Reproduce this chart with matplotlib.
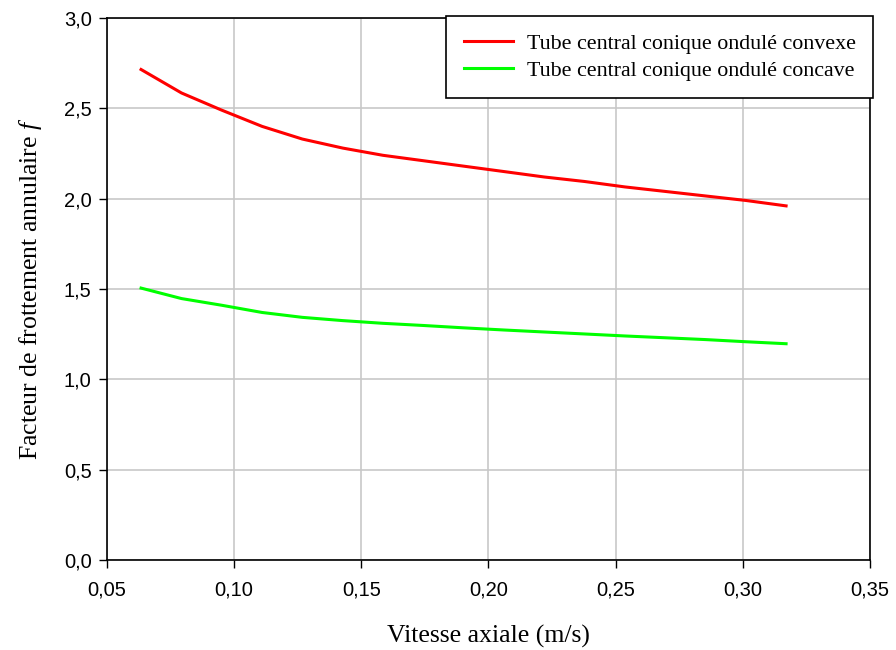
import matplotlib.pyplot as plt
from matplotlib.ticker import FuncFormatter

vitesse = [0.0634, 0.0793, 0.0951, 0.1110, 0.1268, 0.1427, 0.1585, 0.1744,
           0.1902, 0.2061, 0.2219, 0.2378, 0.2536, 0.2695, 0.2853, 0.3012, 0.3170]
f_convexe = [2.715, 2.585, 2.490, 2.400, 2.330, 2.280, 2.240, 2.210,
             2.180, 2.150, 2.120, 2.095, 2.065, 2.040, 2.015, 1.990, 1.960]
f_concave = [1.505, 1.447, 1.410, 1.370, 1.343, 1.325, 1.310, 1.298,
             1.285, 1.273, 1.262, 1.251, 1.240, 1.230, 1.220, 1.208, 1.197]

serif = 'Liberation Serif'
sans = 'Liberation Sans'
plt.rcParams['mathtext.fontset'] = 'custom'
plt.rcParams['mathtext.it'] = 'Liberation Serif:italic'
plt.rcParams['mathtext.rm'] = 'Liberation Serif'

fig = plt.figure(figsize=(8.96, 6.5), dpi=100)
ax = fig.add_axes([0.1194, 0.1385, 0.8516, 0.8338])

ax.plot(vitesse, f_convexe, color='#ff0000', linewidth=2.2,
        label='Tube central conique ondulé convexe')
ax.plot(vitesse, f_concave, color='#00ff00', linewidth=2.2,
        label='Tube central conique ondulé concave')

ax.set_xlim(0.05, 0.35)
ax.set_ylim(0, 3.0)
ax.set_xticks([0.05, 0.10, 0.15, 0.20, 0.25, 0.30, 0.35])
ax.set_yticks([0.0, 0.5, 1.0, 1.5, 2.0, 2.5, 3.0])
ax.xaxis.set_major_formatter(FuncFormatter(lambda v, p: f'{v:.2f}'.replace('.', ',')))
ax.yaxis.set_major_formatter(FuncFormatter(lambda v, p: f'{v:.1f}'.replace('.', ',')))
ax.grid(True, color='#c8c8c8', linewidth=1.2)
ax.set_axisbelow(True)
for s in ax.spines.values():
    s.set_linewidth(1.2)
    s.set_color('black')
ax.tick_params(direction='out', length=6, width=1.0, labelsize=14.5, pad=5)
for lab in ax.get_xticklabels() + ax.get_yticklabels():
    lab.set_fontfamily(sans)
ax.tick_params(axis='x', pad=9)

ax.set_xlabel('Vitesse axiale (m/s)', fontsize=18.5, family=serif, labelpad=18)
ax.set_ylabel('Facteur de frottement annulaire $\\mathit{f}$', fontsize=18.5,
              family=serif, labelpad=14)

leg = ax.legend(loc='upper right', bbox_to_anchor=(1.004, 1.004),
                borderaxespad=0,
                prop={'family': serif, 'size': 15.8}, fancybox=False,
                edgecolor='black', framealpha=1, borderpad=0.8,
                handlelength=2.25, handletextpad=0.6, labelspacing=0.3)
leg.get_frame().set_linewidth(1.2)

fig.savefig('out.png', dpi=100)
